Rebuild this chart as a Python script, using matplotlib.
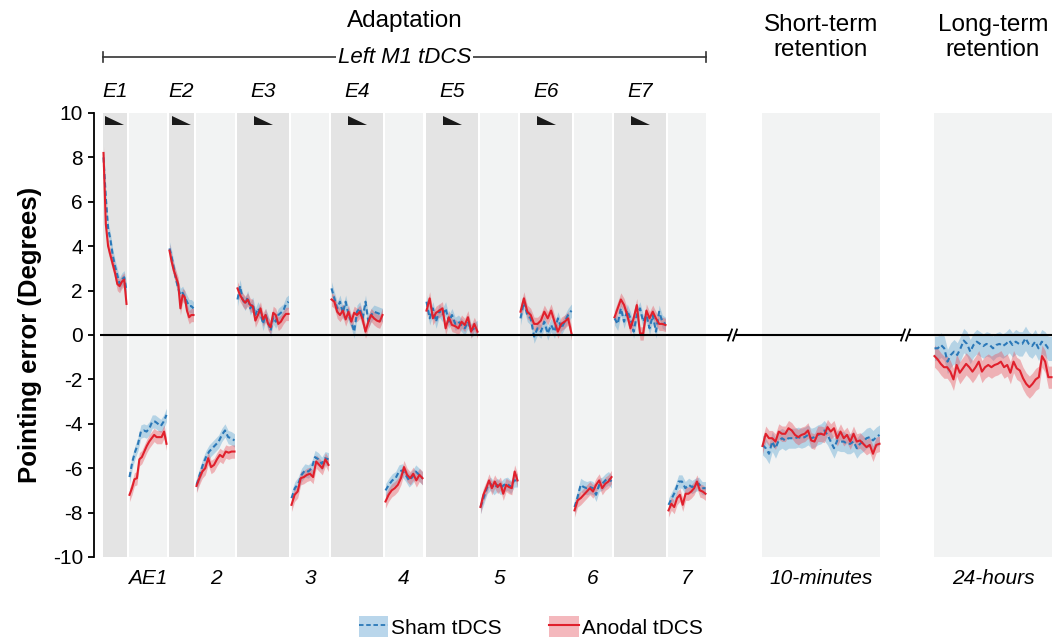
import numpy as np
import matplotlib.pyplot as plt
from matplotlib.patches import Patch, Polygon
from matplotlib.lines import Line2D

plt.rcParams['font.family'] = ['Liberation Sans', 'DejaVu Sans']
plt.rcParams['axes.unicode_minus'] = False

# ---- data (pointing error, degrees) ----
sham_E1 = [8.0, 6.2, 4.8, 4.3, 3.6, 3.1, 2.7, 2.3, 2.5, 2.6, 2.0]
anodal_E1 = [8.2, 5.0, 4.0, 3.6, 3.2, 2.8, 2.3, 2.2, 2.4, 2.5, 1.4]
sham_AE1 = [-6.4, -5.7, -5.25, -4.9, -4.35, -4.3, -4.35, -4.2, -3.9, -3.9, -4.0, -4.1, -3.9, -3.6]
anodal_AE1 = [-7.2, -6.9, -6.5, -6.45, -5.6, -5.5, -5.25, -5.0, -4.8, -4.65, -4.5, -4.6, -4.6, -4.6, -4.35, -4.9]
sham_E2 = [3.9, 3.5, 3.0, 2.5, 2.1, 1.8, 1.9, 1.7, 1.5, 1.3, 1.3, 1.2]
anodal_E2 = [3.8, 3.3, 2.9, 2.6, 2.3, 1.2, 1.8, 1.7, 1.1, 0.8, 0.9, 0.9]
sham_AE2 = [-6.75, -6.3, -5.85, -5.5, -5.25, -5.1, -4.95, -4.8, -4.5, -4.3, -4.6, -4.65, -4.75]
anodal_AE2 = [-6.8, -6.45, -6.15, -6.0, -5.55, -5.95, -5.85, -5.6, -5.4, -5.5, -5.25, -5.3, -5.25, -5.25]
sham_E3 = [1.6, 2.2, 1.6, 1.4, 1.7, 1.2, 1.4, 0.9, 1.2, 1.0, 0.5, 0.9, 0.6, 0.2, 0.8, 0.6, 0.9, 1.0, 1.1, 1.4, 1.5]
anodal_E3 = [2.1, 1.8, 1.6, 1.45, 1.6, 1.35, 1.3, 0.65, 0.9, 1.2, 0.7, 0.9, 0.5, 0.35, 1.0, 0.9, 0.5, 0.6, 0.8, 0.95, 0.95]
sham_AE3 = [-7.35, -6.9, -6.7, -6.3, -6.1, -6.15, -6.0, -5.5, -5.6, -5.8, -5.55, -5.6]
anodal_AE3 = [-7.65, -7.2, -7.05, -6.45, -6.4, -6.3, -6.25, -6.4, -5.7, -5.85, -6.0, -5.6, -5.85]
sham_E4 = [2.1, 1.65, 1.2, 1.5, 1.0, 1.5, 0.9, 0.6, 0.15, 1.05, 1.2, 0.75, 1.5, 0.6, 0.9, 1.05, 1.0, 0.95, 0.9]
anodal_E4 = [1.6, 1.5, 1.05, 0.9, 1.1, 0.7, 1.05, 0.6, 1.0, 0.9, 1.05, 0.7, 0.15, 0.6, 0.9, 0.75, 0.65, 0.6, 0.9]
sham_AE4 = [-7.0, -6.75, -6.55, -6.45, -6.15, -6.1, -6.3, -6.55, -6.4, -6.15, -6.3, -6.45]
anodal_AE4 = [-7.5, -7.2, -7.0, -6.9, -6.75, -6.45, -5.95, -6.3, -6.45, -6.25, -6.55, -6.3, -6.45]
sham_E5 = [1.5, 0.75, 1.2, 0.6, 1.1, 0.9, 1.2, 0.6, 0.9, 0.5, 0.6, 0.45, 0.3, 0.6, 0.2, 0.3, 0.35]
anodal_E5 = [1.1, 1.65, 0.75, 1.0, 1.1, 1.2, 0.3, 0.8, 0.45, 0.4, 0.3, 0.6, 0.45, 0.8, 0.15, 0.5, 0.15]
sham_AE5 = [-7.75, -7.3, -6.85, -6.7, -6.9, -6.75, -6.9, -6.75, -6.7, -6.85, -6.55, -6.55]
anodal_AE5 = [-7.75, -7.2, -6.9, -6.55, -6.9, -6.6, -6.85, -6.7, -7.15, -6.75, -6.85, -6.9, -6.15, -6.55]
sham_E6 = [0.75, 1.5, 0.9, 0.75, -0.07, 0.3, 0.15, 0.6, 0.07, 0.45, 0.15, 0.75, 0.3, 0.6, 0.9, 1.1]
anodal_E6 = [1.05, 1.65, 1.05, 0.9, 0.5, 0.5, 0.65, 1.05, 0.75, 1.1, 0.6, 0.15, 0.5, 0.6, 0.75, 0.07]
sham_AE6 = [-7.75, -7.3, -6.75, -6.85, -6.9, -6.85, -6.9, -7.2, -6.75, -6.7, -6.55, -6.45, -6.6]
anodal_AE6 = [-7.9, -7.45, -7.35, -7.2, -7.05, -6.9, -7.05, -6.75, -6.55, -6.9, -6.7, -6.6, -6.4]
sham_E7 = [0.75, 0.5, 1.2, 0.6, 1.1, 0.75, 0.15, 0.9, 1.2, 0.6, 0.9, 0.3, 0.9, 0.15, 1.05, 0.6, 0.5]
anodal_E7 = [0.8, 1.2, 1.6, 1.35, 0.9, 0.3, 0.75, 1.35, 0.07, 0.07, 1.1, 0.75, 1.05, 0.75, 0.5, 0.5, 0.45]
sham_AE7 = [-7.65, -7.35, -7.05, -6.6, -6.6, -6.9, -6.75, -6.85, -6.75, -6.7, -6.9, -6.9]
anodal_AE7 = [-7.9, -7.6, -7.75, -7.35, -7.2, -7.65, -7.15, -7.15, -7.05, -6.9, -6.6, -7.0, -7.05, -7.15]
sham_10min = [-4.95, -5.1, -5.35, -4.8, -5.1, -4.75, -4.65, -4.75, -4.65, -4.65, -4.65, -4.6, -4.65,
              -4.6, -4.5, -4.65, -4.6, -4.5, -4.45, -4.3, -4.5, -4.8, -5.1, -4.75, -4.8, -4.8, -4.9,
              -4.9, -4.8, -5.1, -4.9, -4.8, -4.65, -4.6, -4.75, -4.6, -4.5]
anodal_10min = [-5.0, -4.45, -4.65, -4.65, -4.8, -4.35, -4.45, -4.45, -4.2, -4.3, -4.5, -4.6, -4.5,
                -4.45, -4.3, -4.75, -4.8, -4.45, -4.45, -4.5, -4.15, -4.35, -4.2, -4.65, -4.35, -4.65,
                -4.5, -4.8, -4.45, -4.8, -4.75, -4.9, -5.05, -4.95, -5.35, -4.95, -4.9]
sham_24h = [-0.6, -0.6, -0.45, -0.6, -1.2, -0.9, -0.75, -0.9, -0.6, -0.25, -0.4, -0.75, -0.45, -0.3,
            -0.4, -0.5, -0.4, -0.45, -0.6, -0.45, -0.4, -0.5, -0.4, -0.25, -0.45, -0.3, -0.4, -0.4,
            -0.15, -0.4, -0.5, -0.3, -0.6, -0.3, -0.4, -0.6, -0.6]
anodal_24h = [-0.95, -1.1, -1.3, -1.45, -1.45, -1.65, -2.0, -1.35, -1.7, -1.5, -1.3, -1.45, -1.65,
              -1.45, -1.2, -1.65, -1.45, -1.35, -1.45, -1.35, -1.3, -1.2, -1.45, -1.35, -1.7, -1.2,
              -1.5, -1.6, -1.95, -2.2, -2.35, -2.2, -2.0, -1.9, -0.95, -1.2, -1.9, -1.9]

# approximate SEM of each block
sem_exposure = {'sham': 0.3, 'anodal': 0.3}
sem_aftereffect = {'sham': 0.3, 'anodal': 0.3}
sem_10min = {'sham': 0.45, 'anodal': 0.35}
sem_24h = {'sham': 0.55, 'anodal': 0.5}

exposure_labels = ['E1', 'E2', 'E3', 'E4', 'E5', 'E6', 'E7']
aftereffect_labels = ['AE1', '2', '3', '4', '5', '6', '7']

# ---- layout: block spans along the x axis (pixel-like units) ----
exp_spans = [(103, 127), (169, 194), (237, 289), (331, 383), (426, 478), (520, 572), (614, 666)]
ae_spans = [(129, 167), (196, 235), (291, 329), (385, 423), (480, 518), (574, 612), (668, 706)]
span_10min = (762, 880)
span_24h = (934, 1052)

sham_exp = [sham_E1, sham_E2, sham_E3, sham_E4, sham_E5, sham_E6, sham_E7]
anodal_exp = [anodal_E1, anodal_E2, anodal_E3, anodal_E4, anodal_E5, anodal_E6, anodal_E7]
sham_ae = [sham_AE1, sham_AE2, sham_AE3, sham_AE4, sham_AE5, sham_AE6, sham_AE7]
anodal_ae = [anodal_AE1, anodal_AE2, anodal_AE3, anodal_AE4, anodal_AE5, anodal_AE6, anodal_AE7]

BLUE = '#2a78b8'
RED = '#e0202c'
BLUE_FILL = '#6baed6'
RED_FILL = '#e8505a'
DARK_BG = '#e4e4e4'
LIGHT_BG = '#f2f3f3'

fig = plt.figure(figsize=(10.55, 6.39), dpi=100)
ax = fig.add_axes([94 / 1055, 82 / 639, 961 / 1055, 444 / 639])
ax.set_xlim(94, 1055)
ax.set_ylim(-10, 10)


def draw_block(span, sham, anodal, sem):
    lo, hi = span
    xs = np.linspace(lo + 0.5, hi - 0.5, len(sham))
    xa = np.linspace(lo + 0.5, hi - 0.5, len(anodal))
    s = np.array(sham)
    a = np.array(anodal)
    ax.fill_between(xs, s - sem['sham'], s + sem['sham'], color=BLUE_FILL, alpha=0.45, lw=0, zorder=2)
    ax.fill_between(xa, a - sem['anodal'], a + sem['anodal'], color=RED_FILL, alpha=0.4, lw=0, zorder=2)
    ax.plot(xs, s, color=BLUE, lw=1.5, ls=(0, (2.5, 1.5)), zorder=3)
    ax.plot(xa, a, color=RED, lw=1.5, zorder=4)


for span in exp_spans:
    ax.axvspan(span[0], span[1], color=DARK_BG, lw=0, zorder=0)
for span in ae_spans + [span_10min, span_24h]:
    ax.axvspan(span[0], span[1], color=LIGHT_BG, lw=0, zorder=0)

for span, s, a in zip(exp_spans, sham_exp, anodal_exp):
    draw_block(span, s, a, sem_exposure)
for span, s, a in zip(ae_spans, sham_ae, anodal_ae):
    draw_block(span, s, a, sem_aftereffect)
draw_block(span_10min, sham_10min, anodal_10min, sem_10min)
draw_block(span_24h, sham_24h, anodal_24h, sem_24h)

# zero line with axis breaks
for x0, x1 in [(100, 730), (736, 903), (909, 1052)]:
    ax.plot([x0, x1], [0, 0], color='black', lw=1.5, zorder=5, solid_capstyle='butt')
for xb in [733, 906]:
    for dx in (-3, 2):
        ax.plot([xb + dx - 2, xb + dx + 2], [-0.25, 0.25], color='black', lw=1.3, zorder=5)

# triangles and labels for exposure blocks
for (lo, hi), lab in zip(exp_spans, exposure_labels):
    c = (lo + hi) / 2
    tri = Polygon([[c - 9.5, 9.85], [c - 9.5, 9.47], [c + 9.5, 9.47]], closed=True,
                  facecolor='#1a1a1a', edgecolor='none', zorder=5)
    ax.add_patch(tri)
    ax.text(c, 10.95, lab, ha='center', va='center', fontsize=15, style='italic', clip_on=False)

for (lo, hi), lab in zip(ae_spans, aftereffect_labels):
    ax.text((lo + hi) / 2, -10.95, lab, ha='center', va='center', fontsize=15, style='italic', clip_on=False)
ax.text(sum(span_10min) / 2, -10.95, '10-minutes', ha='center', va='center', fontsize=15,
        style='italic', clip_on=False)
ax.text(sum(span_24h) / 2, -10.95, '24-hours', ha='center', va='center', fontsize=15,
        style='italic', clip_on=False)

# header
ax.plot([103, 706], [12.52, 12.52], color='#333333', lw=1.2, clip_on=False)
for xe in (103, 706):
    ax.plot([xe, xe], [12.3, 12.74], color='#333333', lw=1.2, clip_on=False)
ax.text(404.5, 12.52, 'Left M1 tDCS', ha='center', va='center', fontsize=16, style='italic',
        clip_on=False, bbox=dict(facecolor='white', edgecolor='none', pad=1.5))
ax.text(404.5, 14.15, 'Adaptation', ha='center', va='center', fontsize=17.5, clip_on=False)
ax.text(sum(span_10min) / 2, 13.4, 'Short-term\nretention', ha='center', va='center',
        fontsize=17.5, linespacing=1.15, clip_on=False)
ax.text(sum(span_24h) / 2, 13.4, 'Long-term\nretention', ha='center', va='center',
        fontsize=17.5, linespacing=1.15, clip_on=False)

# axes styling
for side in ['top', 'right', 'bottom']:
    ax.spines[side].set_visible(False)
ax.spines['left'].set_linewidth(1.3)
ax.set_xticks([])
ax.set_yticks(np.arange(-10, 11, 2))
ax.tick_params(axis='y', direction='out', length=4, width=1.3, labelsize=15, pad=4)
ax.set_ylabel('Pointing error (Degrees)', fontsize=18.5, fontweight='bold', labelpad=8)

handles = [(Patch(facecolor='#b9d6eb', edgecolor='none'),
            Line2D([], [], color=BLUE, lw=1.3, ls=(0, (2.5, 1.5)))),
           (Patch(facecolor='#f4b8bd', edgecolor='none'),
            Line2D([], [], color=RED, lw=1.5))]
fig.legend(handles, ['Sham tDCS', 'Anodal tDCS'], loc='center', bbox_to_anchor=(0.503, 0.019),
           ncol=2, frameon=False, fontsize=15, handlelength=1.4, handleheight=1.2,
           handletextpad=0.15, columnspacing=2.3)

fig.savefig('out.png', dpi=100)
